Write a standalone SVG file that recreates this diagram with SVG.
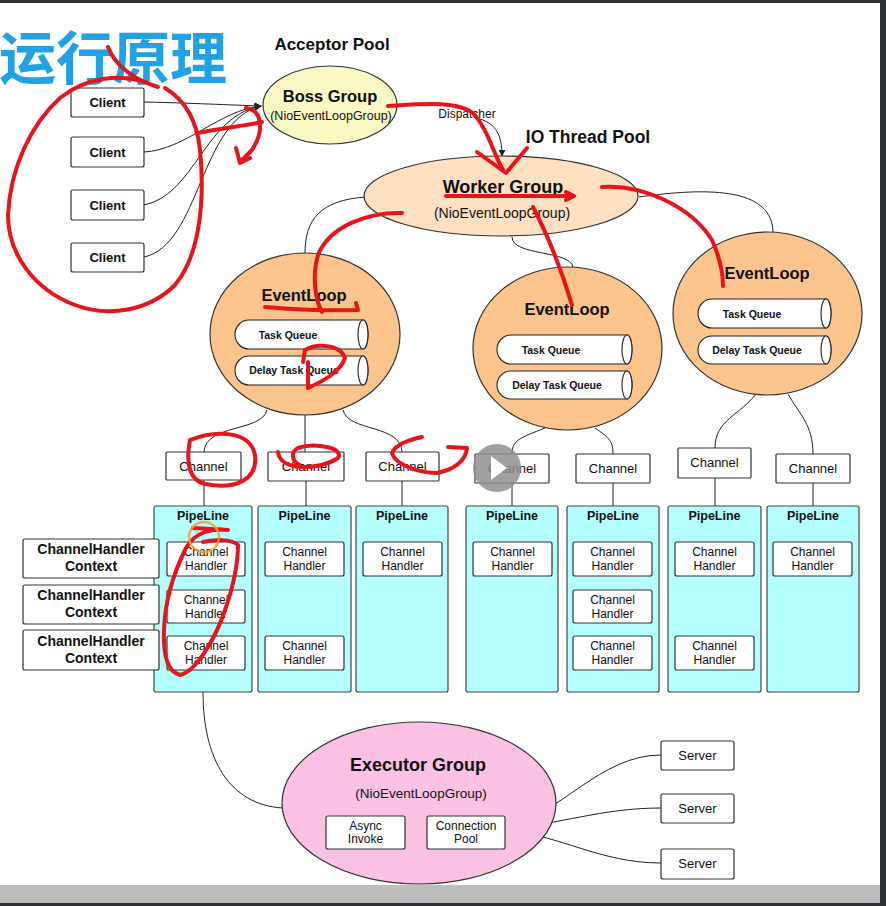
<svg xmlns="http://www.w3.org/2000/svg" width="886" height="906" viewBox="0 0 886 906">
<defs>
<marker id="arr" viewBox="0 0 10 10" refX="9" refY="5" markerWidth="7" markerHeight="7" orient="auto" markerUnits="userSpaceOnUse">
<path d="M0,0 L10,5 L0,10 z" fill="#222"/>
</marker>
<style>
text{font-family:"Liberation Sans",Arial,sans-serif;fill:#111;text-anchor:middle}
.box{fill:#fff;stroke:#333;stroke-width:1.2}
.pipe{fill:#b4fefe;stroke:#444;stroke-width:1.2}
.conn path,.conn line{fill:none;stroke:#222;stroke-width:1}
.el{fill:#fbc48c;stroke:#333;stroke-width:1.2}
.cyl{fill:#fff;stroke:#222;stroke-width:1.1}
.b{font-weight:bold}
.t13{font-size:13px}
.t12{font-size:12px}
.q{font-size:10.5px;font-weight:bold}
.red path{fill:none;stroke:#e8141b;stroke-width:4;stroke-linecap:round;stroke-linejoin:round}
</style>
</defs>
<rect x="0" y="0" width="886" height="906" fill="#fff"/>

<text x="-1" y="79" style="font-family:'Noto Sans CJK SC',sans-serif;font-size:57px;font-weight:bold;fill:#1fa3e6;text-anchor:start">运行原理</text>
<text x="332" y="50" class="b" style="font-size:17px">Acceptor Pool</text>
<text x="588" y="143" class="b" style="font-size:17.5px">IO Thread Pool</text>

<g class="conn" id="connectors">
<path d="M144 102 C190 103 230 105 261 106" marker-end="url(#arr)"/>
<path d="M144 152 C185 150 220 110 261 106" marker-end="url(#arr)"/>
<path d="M144 205 C195 195 205 115 261 106" marker-end="url(#arr)"/>
<path d="M144 257 C200 245 200 120 261 106" marker-end="url(#arr)"/>
<path d="M480 119 C496 124 502 135 502 156" marker-end="url(#arr)"/>
<path d="M366 197 C320 200 305 220 305 253"/>
<path d="M512 237 C512 256 570 250 573 267"/>
<path d="M639 197 C690 190 772 182 773 232"/>
<path d="M267 410 C262 432 205 424 204 452"/>
<line x1="305" y1="415" x2="305" y2="452"/>
<path d="M343 410 C348 432 401 424 402 452"/>
<path d="M545 428 C520 438 512 440 512 454"/>
<path d="M595 428 C610 438 613 442 613 454"/>
<path d="M756 394 C740 415 715 420 715 448"/>
<path d="M788 394 C800 415 813 425 813 454"/>
<line x1="204" y1="480" x2="204" y2="506"/>
<line x1="306" y1="481" x2="306" y2="506"/>
<line x1="402" y1="481" x2="402" y2="506"/>
<line x1="512" y1="483" x2="512" y2="506"/>
<line x1="613" y1="483" x2="613" y2="506"/>
<line x1="715" y1="478" x2="715" y2="506"/>
<line x1="813" y1="483" x2="813" y2="506"/>
<path d="M203 692 C203 760 230 805 283 808"/>
<path d="M505 828 C560 815 600 755 661 755"/>
<path d="M505 828 C560 825 600 808 661 808"/>
<path d="M505 830 C560 835 600 863 661 863"/>
</g>
<text x="467" y="118" class="t12">Dispatcher</text>

<g id="clients">
<g id="client1"><rect class="box" x="71" y="88" width="73" height="29" rx="2"/><text x="107.5" y="107" class="b t13">Client</text></g>
<g id="client2"><rect class="box" x="71" y="137" width="73" height="30" rx="2"/><text x="107.5" y="157" class="b t13">Client</text></g>
<g id="client3"><rect class="box" x="71" y="190" width="73" height="30" rx="2"/><text x="107.5" y="210" class="b t13">Client</text></g>
<g id="client4"><rect class="box" x="71" y="243" width="73" height="29" rx="2"/><text x="107.5" y="262" class="b t13">Client</text></g>
</g>

<g id="boss">
<ellipse cx="330" cy="105" rx="67" ry="39" fill="#f9f7c4" stroke="#333" stroke-width="1.2"/>
<text x="330" y="102" class="b" style="font-size:16.5px">Boss Group</text>
<text x="331" y="120" style="font-size:12.5px">(NioEventLoopGroup)</text>
</g>

<g id="worker">
<ellipse cx="501" cy="196" rx="137" ry="40" fill="#fde0c2" stroke="#333" stroke-width="1.2"/>
<text x="503" y="193" class="b" style="font-size:18px">Worker Group</text>
<text x="502" y="218" style="font-size:14px">(NioEventLoopGroup)</text>
</g>

<g id="eventloop1">
<ellipse class="el" cx="305" cy="334" rx="95" ry="81"/>
<text x="304" y="301" class="b" style="font-size:16.5px">EventLoop</text>
<path class="cyl" d="M249 320 H363 A5 14.5 0 0 1 363 349 H249 A14 14.5 0 0 1 249 320 Z"/><ellipse class="cyl" cx="363" cy="334.5" rx="5" ry="14.5"/>
<text x="288" y="339" class="q">Task Queue</text>
<path class="cyl" d="M249 356 H363 A5 14.5 0 0 1 363 385 H249 A14 14.5 0 0 1 249 356 Z"/><ellipse class="cyl" cx="363" cy="370.5" rx="5" ry="14.5"/>
<text x="294" y="374" class="q">Delay Task Queue</text>
</g>

<g id="eventloop2">
<ellipse class="el" cx="567.5" cy="348.5" rx="94.5" ry="81.5"/>
<text x="567" y="315" class="b" style="font-size:16.5px">EventLoop</text>
<path class="cyl" d="M511 335 H627 A5 14.5 0 0 1 627 364 H511 A14 14.5 0 0 1 511 335 Z"/><ellipse class="cyl" cx="627" cy="349.5" rx="5" ry="14.5"/>
<text x="551" y="354" class="q">Task Queue</text>
<path class="cyl" d="M511 371 H627 A5 14 0 0 1 627 399 H511 A14 14 0 0 1 511 371 Z"/><ellipse class="cyl" cx="627" cy="385" rx="5" ry="14"/>
<text x="557" y="389" class="q">Delay Task Queue</text>
</g>

<g id="eventloop3">
<ellipse class="el" cx="767.5" cy="313.5" rx="94.5" ry="81.5"/>
<text x="767" y="279" class="b" style="font-size:16.5px">EventLoop</text>
<path class="cyl" d="M712 299 H826 A5 14.5 0 0 1 826 328 H712 A14 14.5 0 0 1 712 299 Z"/><ellipse class="cyl" cx="826" cy="313.5" rx="5" ry="14.5"/>
<text x="752" y="318" class="q">Task Queue</text>
<path class="cyl" d="M712 336 H826 A5 14 0 0 1 826 364 H712 A14 14 0 0 1 712 336 Z"/><ellipse class="cyl" cx="826" cy="350" rx="5" ry="14"/>
<text x="757" y="354" class="q">Delay Task Queue</text>
</g>

<g id="channels">
<g id="channel1"><rect class="box" x="166" y="452" width="75" height="28" rx="1"/><text x="203.5" y="471" class="t13">Channel</text></g>
<g id="channel2"><rect class="box" x="268" y="452" width="76" height="29" rx="1"/><text x="306" y="471" class="t13">Channel</text></g>
<g id="channel3"><rect class="box" x="366" y="452" width="73" height="29" rx="1"/><text x="402.5" y="471" class="t13">Channel</text></g>
<g id="channel4"><rect class="box" x="475" y="454" width="74" height="29" rx="1"/><text x="512" y="473" class="t13">Channel</text></g>
<g id="channel5"><rect class="box" x="576" y="454" width="74" height="29" rx="1"/><text x="613" y="473" class="t13">Channel</text></g>
<g id="channel6"><rect class="box" x="678" y="448" width="73" height="30" rx="1"/><text x="714.5" y="467" class="t13">Channel</text></g>
<g id="channel7"><rect class="box" x="776" y="454" width="74" height="29" rx="1"/><text x="813" y="473" class="t13">Channel</text></g>
</g>

<g id="pipelines">
<g id="pipeline1"><rect class="pipe" x="154" y="506" width="98" height="186" rx="2"/><text x="203" y="519.5" class="b" style="font-size:12.5px">PipeLine</text></g>
<g id="pipeline2"><rect class="pipe" x="258" y="506" width="93" height="186" rx="2"/><text x="304.5" y="519.5" class="b" style="font-size:12.5px">PipeLine</text></g>
<g id="pipeline3"><rect class="pipe" x="356" y="506" width="92" height="186" rx="2"/><text x="402" y="519.5" class="b" style="font-size:12.5px">PipeLine</text></g>
<g id="pipeline4"><rect class="pipe" x="466" y="506" width="92" height="186" rx="2"/><text x="512" y="519.5" class="b" style="font-size:12.5px">PipeLine</text></g>
<g id="pipeline5"><rect class="pipe" x="567" y="506" width="92" height="186" rx="2"/><text x="613" y="519.5" class="b" style="font-size:12.5px">PipeLine</text></g>
<g id="pipeline6"><rect class="pipe" x="668" y="506" width="93" height="186" rx="2"/><text x="714.5" y="519.5" class="b" style="font-size:12.5px">PipeLine</text></g>
<g id="pipeline7"><rect class="pipe" x="767" y="506" width="92" height="186" rx="2"/><text x="813" y="519.5" class="b" style="font-size:12.5px">PipeLine</text></g>
</g>

<g id="handlers">
<g id="h1a"><rect class="box" x="167" y="542" width="78" height="34" rx="2"/><text x="206" y="556" class="t12">Channel</text><text x="206" y="570" class="t12">Handler</text></g>
<g id="h1b"><rect class="box" x="167" y="590" width="78" height="33" rx="2"/><text x="206" y="604" class="t12">Channel</text><text x="206" y="618" class="t12">Handler</text></g>
<g id="h1c"><rect class="box" x="167" y="636" width="78" height="34" rx="2"/><text x="206" y="650" class="t12">Channel</text><text x="206" y="664" class="t12">Handler</text></g>
<g id="h2a"><rect class="box" x="265" y="542" width="79" height="34" rx="2"/><text x="304.5" y="556" class="t12">Channel</text><text x="304.5" y="570" class="t12">Handler</text></g>
<g id="h2c"><rect class="box" x="265" y="636" width="79" height="34" rx="2"/><text x="304.5" y="650" class="t12">Channel</text><text x="304.5" y="664" class="t12">Handler</text></g>
<g id="h3a"><rect class="box" x="363" y="542" width="79" height="34" rx="2"/><text x="402.5" y="556" class="t12">Channel</text><text x="402.5" y="570" class="t12">Handler</text></g>
<g id="h4a"><rect class="box" x="473" y="542" width="79" height="34" rx="2"/><text x="512.5" y="556" class="t12">Channel</text><text x="512.5" y="570" class="t12">Handler</text></g>
<g id="h5a"><rect class="box" x="573" y="542" width="79" height="34" rx="2"/><text x="612.5" y="556" class="t12">Channel</text><text x="612.5" y="570" class="t12">Handler</text></g>
<g id="h5b"><rect class="box" x="573" y="590" width="79" height="33" rx="2"/><text x="612.5" y="604" class="t12">Channel</text><text x="612.5" y="618" class="t12">Handler</text></g>
<g id="h5c"><rect class="box" x="573" y="636" width="79" height="34" rx="2"/><text x="612.5" y="650" class="t12">Channel</text><text x="612.5" y="664" class="t12">Handler</text></g>
<g id="h6a"><rect class="box" x="675" y="542" width="79" height="34" rx="2"/><text x="714.5" y="556" class="t12">Channel</text><text x="714.5" y="570" class="t12">Handler</text></g>
<g id="h6c"><rect class="box" x="675" y="636" width="79" height="34" rx="2"/><text x="714.5" y="650" class="t12">Channel</text><text x="714.5" y="664" class="t12">Handler</text></g>
<g id="h7a"><rect class="box" x="773" y="542" width="79" height="34" rx="2"/><text x="812.5" y="556" class="t12">Channel</text><text x="812.5" y="570" class="t12">Handler</text></g>
</g>

<g id="contexts">
<g id="ctx1"><rect class="box" x="23" y="539" width="136" height="39" rx="2"/><text x="91" y="554" class="b" style="font-size:14px">ChannelHandler</text><text x="91" y="571" class="b" style="font-size:14px">Context</text></g>
<g id="ctx2"><rect class="box" x="23" y="585" width="136" height="39" rx="2"/><text x="91" y="600" class="b" style="font-size:14px">ChannelHandler</text><text x="91" y="617" class="b" style="font-size:14px">Context</text></g>
<g id="ctx3"><rect class="box" x="23" y="630" width="136" height="40" rx="2"/><text x="91" y="646" class="b" style="font-size:14px">ChannelHandler</text><text x="91" y="663" class="b" style="font-size:14px">Context</text></g>
</g>

<g id="executor">
<ellipse cx="419" cy="803" rx="137" ry="81" fill="#fac1e5" stroke="#333" stroke-width="1.2"/>
<text x="418" y="771" class="b" style="font-size:18px">Executor Group</text>
<text x="421" y="798" style="font-size:13.5px">(NioEventLoopGroup)</text>
<g id="async"><rect class="box" x="326" y="816" width="79" height="33" rx="2"/><text x="365.5" y="830" class="t12">Async</text><text x="365.5" y="843" class="t12">Invoke</text></g>
<g id="connpool"><rect class="box" x="427" y="816" width="78" height="33" rx="2"/><text x="466" y="830" class="t12">Connection</text><text x="466" y="843" class="t12">Pool</text></g>
</g>

<g id="servers">
<g id="server1"><rect class="box" x="661" y="741" width="73" height="29" rx="2"/><text x="697.5" y="760" class="t13">Server</text></g>
<g id="server2"><rect class="box" x="661" y="794" width="73" height="29" rx="2"/><text x="697.5" y="813" class="t13">Server</text></g>
<g id="server3"><rect class="box" x="661" y="849" width="73" height="30" rx="2"/><text x="697.5" y="868" class="t13">Server</text></g>
</g>

<g id="annotations" class="red">
<path d="M108 47 C115 66 135 80 158 87"/>
<path d="M150 84 C120 72 85 78 60 98 C30 125 10 170 8 215 C8 255 35 290 75 305 C110 318 150 310 175 285 C200 255 205 200 200 150 C197 120 185 100 165 88"/>
<path d="M198 133 C220 128 245 126 262 122"/>
<path d="M246 108 C262 110 265 130 252 150 L240 162 M236 148 L240 163 L250 158"/>
<path d="M388 106 C420 104 458 100 474 114 C488 130 492 150 503 170 M477 152 L506 173 L527 148"/>
<path d="M446 196 L574 196 M566 192 L574 196 L566 200"/>
<path d="M602 187 C640 184 690 205 712 240 C720 258 723 272 723 286"/>
<path d="M533 207 C545 230 560 265 572 305"/>
<path d="M402 213 C370 212 330 225 318 255 C312 275 315 300 322 312"/>
<path d="M265 307 C300 310 330 311 358 310 L356 303"/>
<path d="M303 362 L305 350 C315 344 340 343 345 358 C340 372 325 380 308 388 L308 362"/>
<path d="M190 440 C215 430 250 430 255 455 C258 480 235 490 205 484 C188 480 186 460 190 440"/>
<path d="M278 452 C280 472 320 470 338 458 C345 448 315 442 298 448 C290 452 292 462 300 465"/>
<path d="M422 437 C408 440 395 445 392 453 C395 465 420 473 437 473 C452 470 466 462 467 448 L448 447"/>
<path d="M193 528 L228 530 M228 530 C212 528 195 532 186 548 C175 570 165 600 164 630 C163 655 168 672 180 675 C195 672 215 640 225 610 C232 590 238 565 238 545 C230 538 215 540 203 542"/>
</g>
<circle cx="204" cy="537" r="15" fill="none" stroke="#f0a030" stroke-width="2.5" opacity="0.85"/>

<g id="playbutton">
<circle cx="497" cy="468" r="24" fill="#8f8f8f" opacity="0.85"/>
<path d="M491 456 L507 468 L491 480 Z" fill="#fff"/>
</g>

<rect x="0" y="0" width="886" height="3" fill="#2d3035"/>
<rect x="880" y="0" width="6" height="906" fill="#2d3035"/>
<rect x="0" y="885" width="880" height="18" fill="#bdbdbd"/>
<rect x="0" y="903" width="886" height="3" fill="#2d3035"/>
</svg>
